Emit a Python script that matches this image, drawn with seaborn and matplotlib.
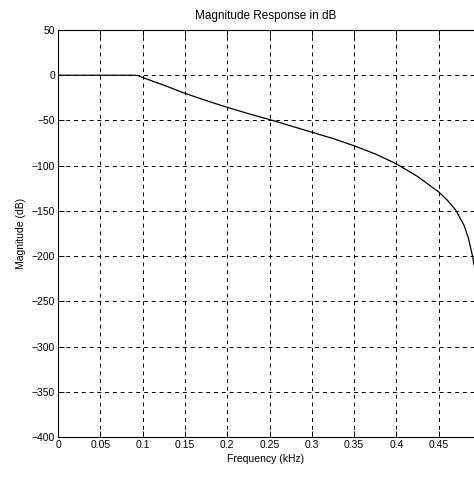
import pandas as pd
import seaborn as sns
import matplotlib
matplotlib.use('Agg')
import matplotlib.pyplot as plt

# magnitude response
freq_khz = [0.0, 0.03, 0.06, 0.09, 0.095, 0.1, 0.125, 0.15, 0.175, 0.2, 0.225, 0.25,
            0.275, 0.3, 0.325, 0.35, 0.375, 0.4, 0.425, 0.45, 0.46, 0.47, 0.48,
            0.485, 0.49, 0.4917]
mag_db = [0.0, 0.0, 0.0, 0.0, -0.5, -2.5, -11, -20, -28, -35.5, -42.5, -49,
          -56, -63, -70, -78, -87, -98, -112, -129, -138, -149, -166,
          -180, -200, -210]
x_ticks = [0, 0.05, 0.1, 0.15, 0.2, 0.25, 0.3, 0.35, 0.4, 0.45]
x_tick_labels = ['0', '0.05', '0.1', '0.15', '0.2', '0.25', '0.3', '0.35', '0.4', '0.45']
y_ticks = list(range(-400, 51, 50))

df = pd.DataFrame({'freq': freq_khz, 'mag': mag_db})

sns.set_theme(style='white')
plt.rcParams['font.family'] = ['Liberation Sans', 'DejaVu Sans']

fig = plt.figure(figsize=(4.74, 4.8), dpi=100)
ax = fig.add_axes([58/474, 1-437/480, 1-58/474, (437-30)/480])

sns.lineplot(data=df, x='freq', y='mag', ax=ax, color='black', linewidth=0.9)

ax.set_xlim(0, 0.4917)
ax.set_ylim(-400, 50)
ax.set_xticks(x_ticks)
ax.set_xticklabels(x_tick_labels)
ax.set_yticks(y_ticks)
ax.grid(True, color='black', linestyle=(0, (4, 4)), linewidth=0.7)
ax.tick_params(direction='in', length=4, width=0.7, labelsize=7.5, colors='black',
               pad=2, bottom=True, left=True, top=True)
for s in ['left', 'bottom', 'top']:
    ax.spines[s].set_color('black')
    ax.spines[s].set_linewidth(0.8)
ax.spines['right'].set_visible(False)

ax.set_xlabel('Frequency (kHz)', fontsize=7.5, color='black', labelpad=3)
ax.set_ylabel('Magnitude (dB)', fontsize=7.5, color='black', labelpad=4)
ax.set_title('Magnitude Response in dB', fontsize=8.5, color='black', pad=8)

plt.savefig('out.png', dpi=100)
